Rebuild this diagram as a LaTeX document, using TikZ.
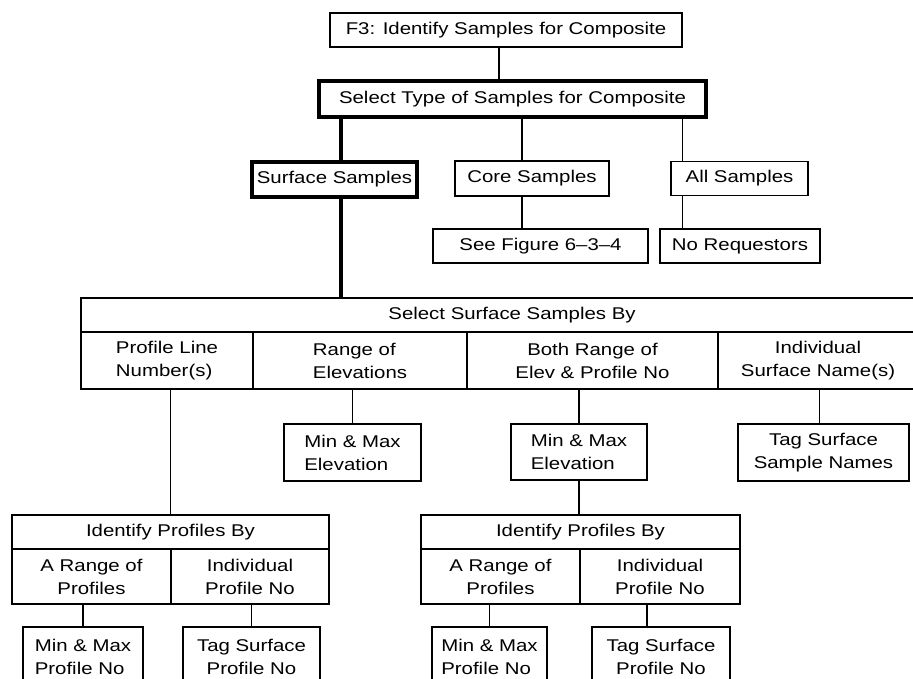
\documentclass[tikz,border=0pt]{standalone}
\usepackage{fontspec}
\setmainfont{Liberation Sans}[FakeStretch=1.2]
\begin{document}
\begin{tikzpicture}[x=1pt,y=-1pt,
  box/.style={draw, line width=1.3pt, inner sep=0pt, font=\fontsize{17}{23}\selectfont, align=center},
  boldbox/.style={box, line width=3.5pt},
  cell/.style={box, line width=2.2pt},
  lcell/.style={box, line width=1.4pt},
  link/.style={line width=1.3pt},
  boldlink/.style={line width=3.5pt}]
\useasboundingbox (0,0) rectangle (913,679);
\clip (0,0) rectangle (913,679);
% top level
\node[box, minimum width=352pt, minimum height=34pt] (f3) at (506,30) {F3: Identify Samples for Composite};
\node[boldbox, minimum width=387pt, minimum height=36pt] (sel) at (512.5,99) {Select Type of Samples for Composite};
\node[boldbox, minimum width=165pt, minimum height=35pt] (surf) at (334.5,179.5) {Surface Samples};
\node[box, minimum width=154pt, minimum height=35pt] (core) at (532,178.5) {Core Samples};
\node[box, minimum width=137pt, minimum height=34pt] (all) at (739.5,178.5) {All Samples};
\node[box, minimum width=215pt, minimum height=34pt] (seefig) at (540.5,246) {See Figure 6--3--4};
\node[box, minimum width=160pt, minimum height=34pt] (noreq) at (740,246) {No Requestors};
% table 1 (runs past the right edge of the picture)
\node[cell, minimum width=862pt, minimum height=34pt] (t1h) at (512,315) {Select Surface Samples By};
\node[cell, minimum width=172pt, minimum height=57pt, align=left] (t1a) at (167,360.5) {Profile Line\\Number(s)};
\node[cell, minimum width=214pt, minimum height=57pt, align=left] (t1b) at (360,360.5) {Range of\\Elevations};
\node[cell, minimum width=251pt, minimum height=57pt] (t1c) at (592.5,360.5) {Both Range of\\Elev \& Profile No};
\node[cell, minimum width=200pt, minimum height=57pt] (t1d) at (818,360.5) {Individual\\Surface Name(s)};
% second level
\node[box, minimum width=137pt, minimum height=57pt, align=left] (mme1) at (352.5,452.5) {Min \& Max\\Elevation};
\node[box, minimum width=136pt, minimum height=56pt, align=left] (mme2) at (579,452) {Min \& Max\\Elevation};
\node[box, minimum width=171pt, minimum height=57pt] (tag) at (823.5,452.5) {Tag Surface\\Sample Names};
% table 2
\node[lcell, minimum width=317pt, minimum height=34pt] (t2h) at (170.5,532) {Identify Profiles By};
\node[lcell, minimum width=159pt, minimum height=55pt] (t2a) at (91.5,576.5) {A Range of\\Profiles};
\node[lcell, minimum width=158pt, minimum height=55pt] (t2b) at (250,576.5) {Individual\\Profile No};
% table 3
\node[lcell, minimum width=319pt, minimum height=34pt] (t3h) at (580.5,532) {Identify Profiles By};
\node[lcell, minimum width=159pt, minimum height=55pt] (t3a) at (500.5,576.5) {A Range of\\Profiles};
\node[lcell, minimum width=160pt, minimum height=55pt] (t3b) at (660,576.5) {Individual\\Profile No};
% bottom boxes
\node[box, minimum width=120pt, minimum height=60pt, align=left] (b1) at (83,657) {Min \& Max\\Profile No};
\node[box, minimum width=137pt, minimum height=60pt] (b2) at (251.5,657) {Tag Surface\\Profile No};
\node[box, minimum width=115pt, minimum height=60pt, align=left] (b3) at (489.5,657) {Min \& Max\\Profile No};
\node[box, minimum width=138pt, minimum height=60pt] (b4) at (661,657) {Tag Surface\\Profile No};
% connector anchors
\coordinate (fa) at ([xshift=-7pt]f3.south);
\coordinate (sa) at ([xshift=6.5pt]surf.north);
\coordinate (sb) at ([xshift=6.5pt]surf.south);
\coordinate (ca) at ([xshift=-10pt]core.north);
\coordinate (cb) at ([xshift=-10pt]core.south);
\coordinate (aa) at ([xshift=12pt]all.north west);
\coordinate (ab) at ([xshift=12pt]all.south west);
\coordinate (ta) at ([xshift=-4pt]tag.north);
\coordinate (b4a) at ([xshift=-14pt]b4.north);
% connectors
\draw[link] (fa) -- (fa |- sel.north);
\draw[boldlink] (sa) -- (sa |- sel.south);
\draw[link] (ca) -- (ca |- sel.south);
\draw[link] (aa) -- (aa |- sel.south);
\draw[link] (cb) -- (cb |- seefig.north);
\draw[link] (ab) -- (ab |- noreq.north);
\draw[boldlink] (sb) -- (sb |- t1h.north);
\draw[link] (mme1.north) -- (mme1.north |- t1b.south);
\draw[link] (mme2.north) -- (mme2.north |- t1c.south);
\draw[link] (ta) -- (ta |- t1d.south);
\draw[link] (t2h.north) -- (t2h.north |- t1a.south);
\draw[link] (mme2.south) -- (mme2.south |- t3h.north);
\draw[link] (b1.north) -- (b1.north |- t2a.south);
\draw[link] (b2.north) -- (b2.north |- t2b.south);
\draw[link] (b3.north) -- (b3.north |- t3a.south);
\draw[link] (b4a) -- (b4a |- t3b.south);
\end{tikzpicture}
\end{document}
